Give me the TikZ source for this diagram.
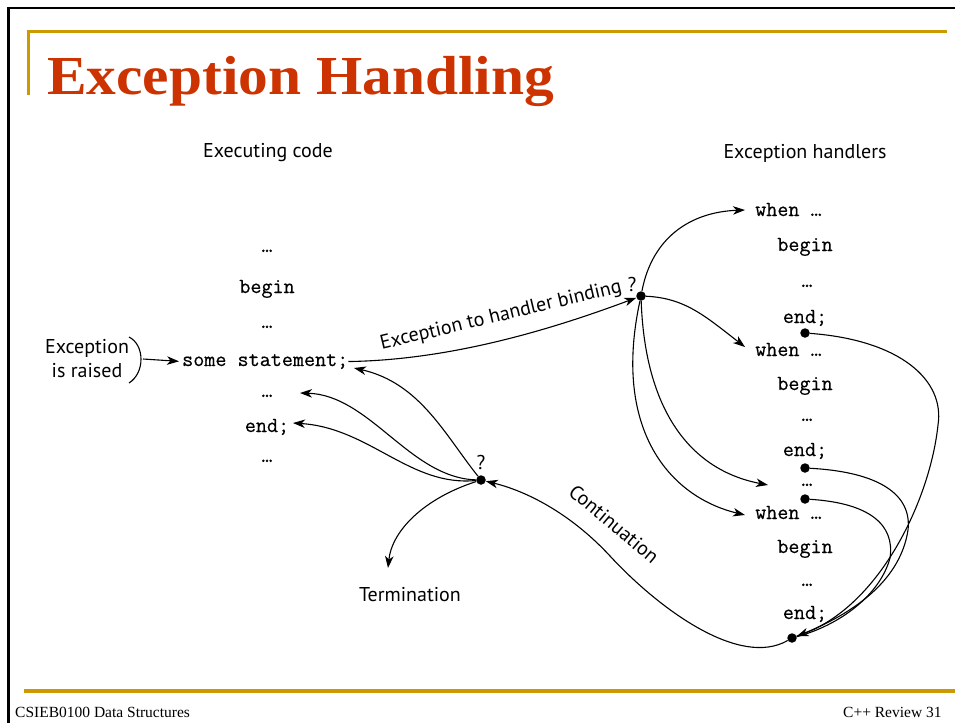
\documentclass[tikz,border=0pt]{standalone}
\usepackage{fontspec}
\setmainfont{Liberation Serif}
\newfontfamily\labfont{PT Sans}
\newfontfamily\codefont[FakeBold=0.5]{Latin Modern Mono}
\usetikzlibrary{arrows.meta}
\definecolor{gold}{HTML}{CC9900}
\definecolor{titlered}{HTML}{CC3300}
\begin{document}
\begin{tikzpicture}[x=1pt,y=-1pt,
  lbl/.style={font=\labfont\fontsize{20}{24}\selectfont, inner sep=0pt, align=center},
  code/.style={font=\codefont\fontsize{21.5}{24}\selectfont, inner sep=0pt, anchor=base},
  codew/.style={code, anchor=base west},
  conn/.style={line width=1.1pt, -{Stealth[length=12pt,width=8.5pt,inset=3.5pt]}},
  plainline/.style={line width=1.1pt},
  dotn/.style={circle, fill=black, inner sep=0pt, minimum size=9.5pt},
  goldline/.style={draw=gold},
  footer/.style={font=\fontsize{15.5}{18}\selectfont, inner sep=0pt}]
\useasboundingbox (0,0) rectangle (955,723);
\fill[white] (0,0) rectangle (955,723);
% frame
\draw[black, line width=2.5pt] (7,8) -- (955,8);
\draw[black, line width=2.5pt] (8.5,7) -- (8.5,723);
\draw[goldline, line width=3.5pt] (27,31.5) -- (947,31.5);
\draw[goldline, line width=3pt] (28.5,30) -- (28.5,95);
\draw[goldline, line width=4.5pt] (24,691) -- (955,691);
% title
\node[anchor=base west, inner sep=0pt, text=titlered, xscale=1.08,
      font=\bfseries\fontsize{55}{60}\selectfont] (title) at (47,94) {Exception Handling};
% footer
\node[footer, anchor=base west] (foot1) at (15,717) {CSIEB0100 Data Structures};
\node[footer, anchor=base west] (foot2) at (843,717) {C++ Review 31};
% headings
\node[lbl] (hexec) at (268,153) {Executing code};
\node[lbl] (hhand) at (805,153) {Exception handlers};
% left column
\node[code] (l1) at (267,252) {…};
\node[code] (l2) at (267,293) {begin};
\node[code] (l3) at (267,328) {…};
\node[codew] (stmt) at (182,366) {some statement;};
\node[code] (l5) at (267,397) {…};
\node[code] (lend) at (267,432) {end;};
\node[code] (l7) at (267,462) {…};
% right column
\node[codew] (w1) at (755,216) {when …};
\node[code] (b1) at (805,251) {begin};
\node[code] (e1) at (807,287) {…};
\node[code] (n1) at (805,323) {end;};
\node[codew] (w2) at (755,356) {when …};
\node[code] (b2) at (805,390) {begin};
\node[code] (e2) at (807,421) {…};
\node[code] (n2) at (805,456) {end;};
\node[code] (e3) at (807,486) {…};
\node[codew] (w3) at (755,519) {when …};
\node[code] (b3) at (805,553) {begin};
\node[code] (e4) at (807,586) {…};
\node[code] (n3) at (805,619) {end;};
% other labels
\node[lbl] (raised) at (87,359) {Exception\\is raised};
\node[lbl] (term) at (410,595) {Termination};
\node[lbl] (qq) at (481,462) {?};
\node[lbl] (qb) at (632,284) {?};
\node[lbl, rotate=13.5] (binding) at (501,316) {Exception to handler binding};
\node[lbl, rotate=-40] (cont) at (614,524) {Continuation};
% dots
\node[dotn] (qd) at (481,480) {};
\node[dotn] (bind) at (641,296) {};
\node[dotn] (d1) at (805,333) {};
\node[dotn] (d2) at (805,468) {};
\node[dotn] (d3) at (805,499) {};
\node[dotn] (d4) at (792,638) {};
% tip coordinates
\coordinate (braceend) at (143,359);
\coordinate (t1) at (745,210);
\coordinate (t2) at (745,347);
\coordinate (t3) at (768,485);
\coordinate (t4) at (745,515);
\coordinate (ta1) at (354,368);
\coordinate (ta2) at (300,393);
\coordinate (ta3) at (293,423);
\coordinate (tterm) at (388,568);
% exception raised
\draw[plainline] (129,337) .. controls (145,345) and (145,373) .. (129,383);
\draw[conn, shorten >=3pt] (braceend) -- (stmt.west);
% binding
\draw[conn] (stmt.east) .. controls (450,360) and (550,330) .. (bind);
% to handlers
\draw[conn] (bind) .. controls (652,238) and (690,212) .. (t1);
\draw[conn] (bind) .. controls (685,298) and (705,316) .. (t2);
\draw[conn] (bind) .. controls (645,410) and (690,470) .. (t3);
\draw[conn] (bind) .. controls (612,430) and (670,497) .. (t4);
% returns
\draw[conn] (d1) .. controls (900,340) and (945,380) .. (938,425) .. controls (930,500) and (880,605) .. (d4);
\draw[plainline] (d2) .. controls (880,472) and (912,495) .. (908,530) .. controls (902,570) and (870,608) .. (d4);
\draw[plainline] (d3) .. controls (870,503) and (895,525) .. (890,558) .. controls (880,595) and (840,625) .. (d4);
% continuation
\draw[conn] (d4) .. controls (740,668) and (660,610) .. (610,556) .. controls (573,516) and (530,492) .. (qd);
% back to executing code
\draw[conn] (qd) .. controls (445,435) and (420,383) .. (ta1);
\draw[conn] (qd) .. controls (410,478) and (370,395) .. (ta2);
\draw[conn] (qd) .. controls (410,487) and (370,428) .. (ta3);
\draw[conn] (qd) .. controls (425,498) and (392,530) .. (tterm);
\end{tikzpicture}
\end{document}
